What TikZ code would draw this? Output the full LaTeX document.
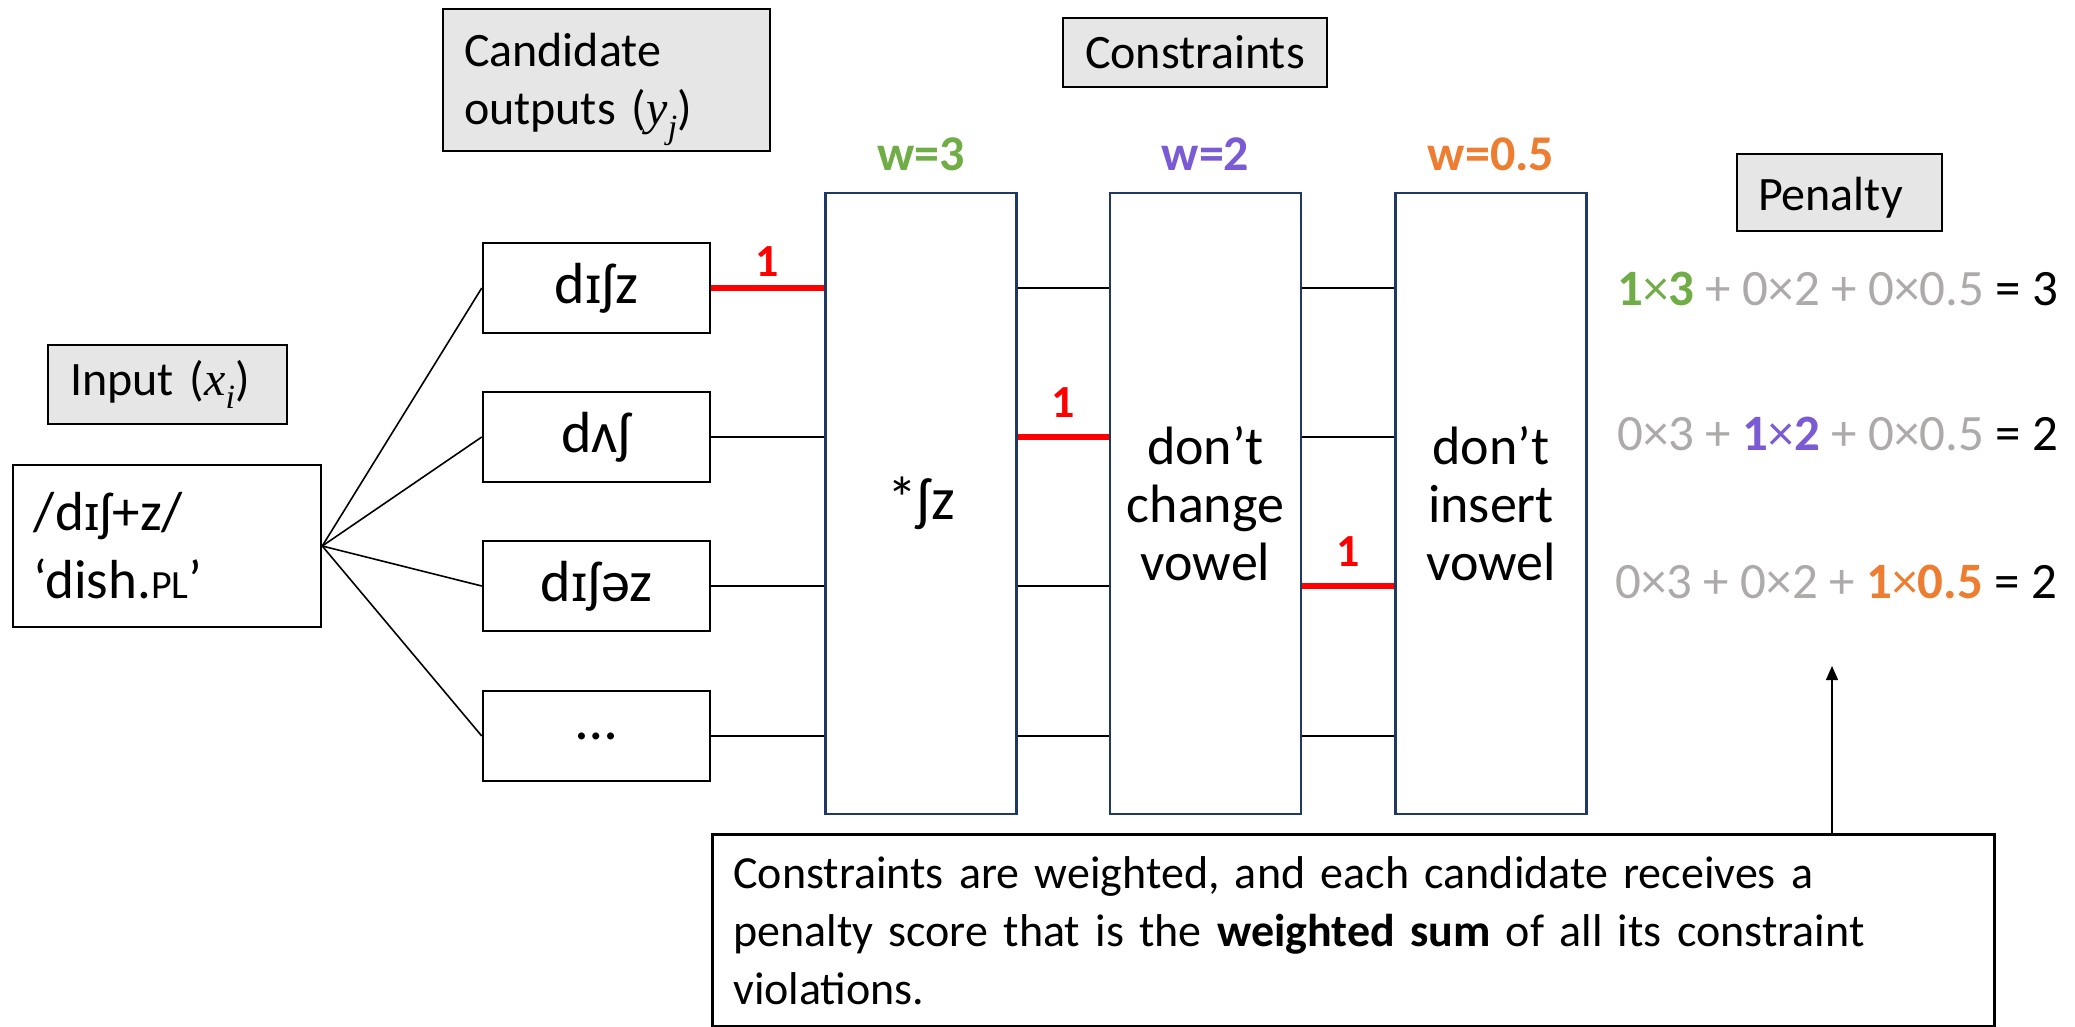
\documentclass[tikz,border=0pt]{standalone}
\usepackage{fontspec}
\setmainfont{Carlito}
\newfontfamily\mvar{Liberation Serif}
\newfontfamily\ipafont{Noto Sans}[Scale=0.88]
\usetikzlibrary{arrows.meta}

\definecolor{hdrfill}{HTML}{E7E6E6}
\definecolor{navy}{HTML}{1F3864}
\definecolor{wgreen}{HTML}{70AD47}
\definecolor{wpurple}{HTML}{7B5BD3}
\definecolor{worange}{HTML}{ED7D31}
\definecolor{wgray}{HTML}{AEAAAA}
\definecolor{vred}{HTML}{FF0000}

\newcommand{\fs}[2]{\fontsize{#1}{#2}\selectfont}
% italic variable with a lowered index, e.g. \mvi{x}{i}
\newcommand{\mvi}[2]{{\mvar\itshape #1}\raisebox{-0.28em}{\fs{34}{34}\mvar\itshape #2}}
% small capital I (IPA near-close vowel) with serifs
\newcommand{\smI}{{\ipafont ɪ}}

\begin{document}
\begin{tikzpicture}[x=1pt,y=-1pt,
  header/.style={draw=black, fill=hdrfill, line width=2.5pt, inner sep=0pt, font=\fs{48}{58}},
  candbox/.style={draw=black, line width=2.5pt, minimum width=227pt, minimum height=90pt, inner sep=0pt, font=\fs{58}{66}},
  conbox/.style={draw=navy, line width=2.5pt, minimum width=191pt, minimum height=621pt, inner sep=0pt, align=center, font=\fs{54}{58}},
  link/.style={line width=1.6pt},
  viol/.style={draw=vred, line width=5.5pt},
  vnum/.style={text=vred, font=\bfseries\fs{46}{50}},
  wlab/.style={font=\bfseries\fs{50}{58}},
  sumrow/.style={anchor=west, inner sep=0pt, font=\fs{51}{58}},
  arr/.style={line width=1.4pt, -{Triangle[length=14pt,width=12pt]}},
]
\path[use as bounding box] (0,0) rectangle (2075,1026);
\clip (0,0) rectangle (2075,1026);

% header labels
\node[header, minimum width=327pt, minimum height=142pt, text width=285pt, align=left] (hcand) at (606.5,80) {\rule{0pt}{52pt}Candidate\\outputs (\mvi{y}{j})};
\node[header, minimum width=239pt, minimum height=79pt, text width=195pt, align=left] (hin) at (167.5,384.5) {Input (\mvi{x}{i})};
\node[header, minimum width=264pt, minimum height=69pt] (hcon) at (1195,52.5) {Constraints};
\node[header, minimum width=205pt, minimum height=77pt, text width=163pt, align=left] (hpen) at (1839.5,192.5) {\rule{0pt}{44pt}Penalty};

% input form
\node[draw=black, line width=2.5pt, minimum width=308pt, minimum height=162pt, text width=266pt, align=left, inner sep=0pt, font=\fs{55}{68}] (inp) at (167,546) {/d\smI ʃ+z/\\‘dish.{\fs{40}{68}PL}’};

% candidates
\node[candbox] (c1) at (596.5,288) {d\smI ʃz};
\node[candbox] (c2) at (596.5,437) {dʌʃ};
\node[candbox] (c3) at (596.5,586) {d\smI ʃəz};
\node[candbox] (c4) at (596.5,736) {…};

\foreach \c in {c1,c2,c3,c4} \draw[link] (inp.east) -- (\c.west);

% constraints
\node[conbox] (k1) at (921,503.5) {\fs{60}{66}*ʃz};
\node[conbox] (k2) at (1205.5,503.5) {don’t\\change\\vowel};
\node[conbox] (k3) at (1491,503.5) {don’t\\insert\\vowel};

\node[wlab, text=wgreen] (w1) at (921,154) {w=3};
\node[wlab, text=wpurple] (w2) at (1205.5,154) {w=2};
\node[wlab, text=worange] (w3) at (1491,154) {w=0.5};

% candidate -> constraint rows
\draw[viol] (c1.east) -- (c1.east -| k1.west);
\foreach \c in {c2,c3,c4} \draw[link] (\c.east) -- (\c.east -| k1.west);
\draw[viol] (c2.east -| k1.east) -- (c2.east -| k2.west);
\foreach \c in {c1,c3,c4} \draw[link] (\c.east -| k1.east) -- (\c.east -| k2.west);
\draw[viol] (c3.east -| k2.east) -- (c3.east -| k3.west);
\foreach \c in {c1,c2,c4} \draw[link] (\c.east -| k2.east) -- (\c.east -| k3.west);

\node[vnum] (v1) at (767,262) {1};
\node[vnum] (v2) at (1063,403) {1};
\node[vnum] (v3) at (1348,552) {1};

% weighted sums
\node[sumrow] (s1) at (1617,289) {\textcolor{wgreen}{\textbf{1}×\textbf{3}} \textcolor{wgray}{+ 0×2 + 0×0.5} = 3};
\node[sumrow] (s2) at (1617,434) {\textcolor{wgray}{0×3 +} \textcolor{wpurple}{\textbf{1}×\textbf{2}} \textcolor{wgray}{+ 0×0.5} = 2};
\node[sumrow] (s3) at (1615,582) {\textcolor{wgray}{0×3 + 0×2 +} \textcolor{worange}{\textbf{1}×\textbf{0.5}} = 2};

% explanatory note
\node[draw=black, line width=2.5pt, anchor=north west, inner xsep=21pt, inner ysep=22pt, text width=1240pt, align=left, font=\fs{46}{58}] (note) at (711,833) {Constraints are weighted, and each candidate receives a\\penalty score that is the \textbf{weighted sum} of all its constraint\\violations.};

\coordinate (tip) at (1832,666);
\draw[arr] (tip |- note.north) -- (tip);
\end{tikzpicture}
\end{document}
